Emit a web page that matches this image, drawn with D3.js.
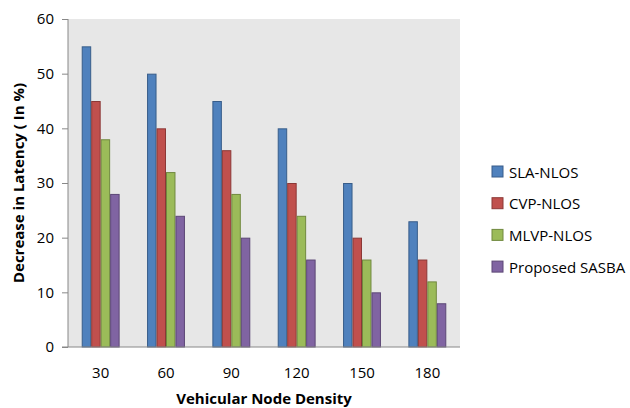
<!DOCTYPE html>
<html>
<head>
<meta charset="utf-8">
<script src="https://cdn.jsdelivr.net/npm/d3@7"></script>
<style>
  body { margin: 0; background: #fff; }
  text { font-family: "Open Sans", "Liberation Sans", sans-serif; fill: #000; }
</style>
</head>
<body>
<svg id="chart"></svg>
<script>
// data
let densities = ["30", "60", "90", "120", "150", "180"];
let seriesNames = ["SLA-NLOS", "CVP-NLOS", "MLVP-NLOS", "Proposed SASBA"];
let slaNlos = [55, 50, 45, 40, 30, 23];
let cvpNlos = [45, 40, 36, 30, 20, 16];
let mlvpNlos = [38, 32, 28, 24, 16, 12];
let sasba = [28, 24, 20, 16, 10, 8];
let yTicks = [0, 10, 20, 30, 40, 50, 60];

let fills = ["#4f81bd", "#c0504d", "#9bbb59", "#8064a2"];
let strokes = ["#385d8a", "#8c3836", "#71893f", "#5c4776"];

let svgW = 630, svgH = 408;
let margin = { top: 19, right: 170, bottom: 61, left: 68 };

let svg = d3.select("#chart")
    .attr("width", svgW)
    .attr("height", svgH);

let allSeries = [slaNlos, cvpNlos, mlvpNlos, sasba];

let xScale = d3.scaleBand()
    .domain(densities)
    .range([margin.left, svgW - margin.right])
    .paddingInner(0.42)
    .paddingOuter(0.21);

let xSub = d3.scaleBand()
    .domain(d3.range(seriesNames.length))
    .range([0, xScale.bandwidth()]);

let yScale = d3.scaleLinear()
    .domain([0, 60])
    .range([svgH - margin.bottom, margin.top]);

// plot background
svg.append("rect")
    .attr("x", margin.left)
    .attr("y", margin.top)
    .attr("width", svgW - margin.right - margin.left)
    .attr("height", yScale(0) - margin.top)
    .attr("fill", "#e7e7e7");

// bars
allSeries.forEach(function (vals, i) {
    svg.append("g")
        .selectAll("rect")
        .data(vals)
        .enter()
        .append("rect")
        .attr("x", function (d, j) { return xScale(densities[j]) + xSub(i) + 0.5; })
        .attr("y", function (d) { return yScale(d) + 0.5; })
        .attr("width", xSub.bandwidth() - 1)
        .attr("height", function (d) { return yScale(0) - yScale(d) - 0.5; })
        .attr("fill", fills[i])
        .attr("stroke", strokes[i])
        .attr("stroke-width", 1);
});

// y axis
let yAxis = d3.axisLeft(yScale)
    .tickValues(yTicks)
    .tickSize(6)
    .tickPadding(8);

let gy = svg.append("g")
    .attr("transform", "translate(" + margin.left + ",0)")
    .call(yAxis);
gy.select(".domain").attr("stroke", "#888").attr("d", "M0," + margin.top + "V" + yScale(0));
gy.selectAll(".tick line").attr("stroke", "#888");
gy.selectAll(".tick text").style("font-size", "15px").attr("fill", "#000");

// x axis
let xAxis = d3.axisBottom(xScale)
    .tickSize(0)
    .tickPadding(20);

let gx = svg.append("g")
    .attr("transform", "translate(0," + yScale(0) + ")")
    .call(xAxis);
gx.select(".domain").attr("stroke", "#888").attr("d", "M" + (margin.left - 6) + ",0H" + (svgW - margin.right));
gx.selectAll(".tick text").style("font-size", "15px").attr("fill", "#000");

// axis titles
svg.append("text")
    .attr("x", (margin.left + svgW - margin.right) / 2)
    .attr("y", 404)
    .attr("text-anchor", "middle")
    .style("font-size", "15px")
    .style("font-weight", "bold")
    .text("Vehicular Node Density");

svg.append("text")
    .attr("transform", "translate(24," + ((margin.top + yScale(0)) / 2) + ") rotate(-90)")
    .attr("text-anchor", "middle")
    .style("font-size", "15px")
    .style("font-weight", "bold")
    .text("Decrease in Latency ( In %)");

// legend
let legend = svg.append("g")
    .selectAll("g")
    .data(seriesNames)
    .enter()
    .append("g")
    .attr("transform", function (d, i) { return "translate(492," + (166 + i * 31.7) + ")"; });

legend.append("rect")
    .attr("width", 11)
    .attr("height", 11)
    .attr("fill", function (d, i) { return fills[i]; })
    .attr("stroke", function (d, i) { return strokes[i]; });

legend.append("text")
    .attr("x", 17)
    .attr("y", 11.5)
    .style("font-size", "15px")
    .text(function (d) { return d; });
</script>
</body>
</html>
